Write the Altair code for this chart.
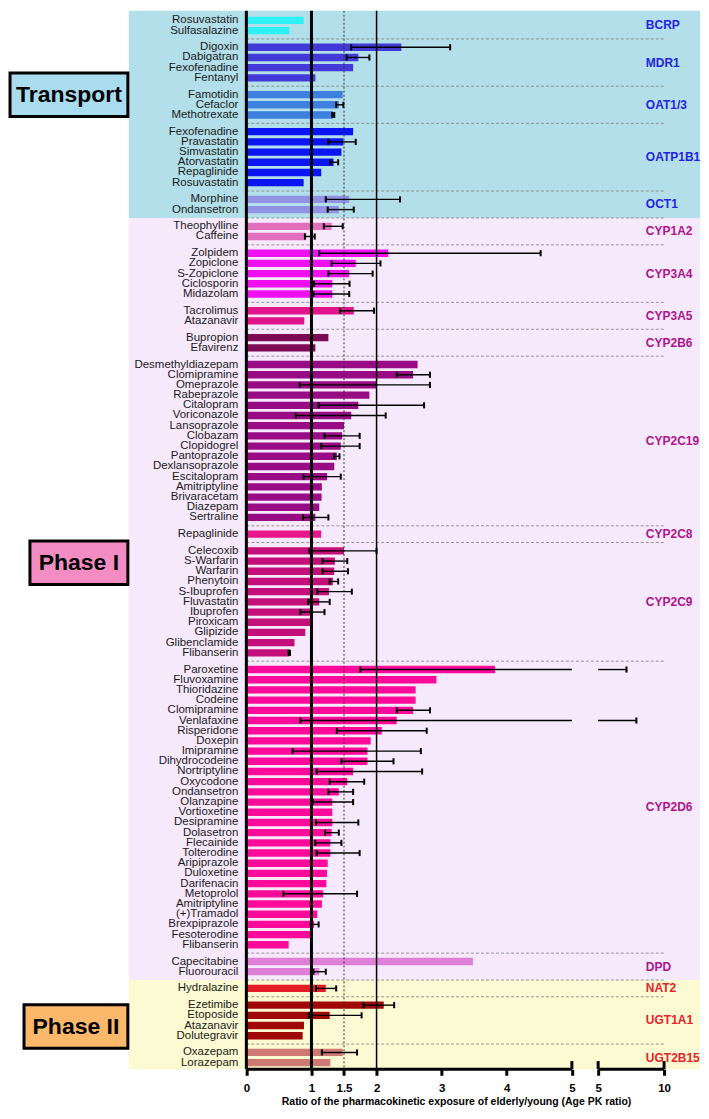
import altair as alt
import pandas as pd
import numpy as np

# ------------------------------------------------------------------ data
groups = ["BCRP", "MDR1", "OAT1/3", "OATP1B1", "OCT1",
          "CYP1A2", "CYP3A4", "CYP3A5", "CYP2B6", "CYP2C19", "CYP2C8", "CYP2C9", "CYP2D6", "DPD",
          "NAT2", "UGT1A1", "UGT2B15"]
group_sizes = [2, 4, 3, 6, 2, 2, 5, 2, 2, 16, 1, 11, 28, 2, 1, 4, 2]
group_phase = ["Transport"] * 5 + ["Phase I"] * 9 + ["Phase II"] * 3
group_colors = ["#2ff0f5", "#4338d8", "#3d80e0", "#0b14f2", "#9292e4",
                "#e26fbe", "#f00ff0", "#e2148c", "#7c0a55", "#990a85", "#e8158d", "#c40f7a",
                "#ff0a9a", "#df80d8", "#e41e24", "#a00808", "#cc7a72"]

phases = ["Transport", "Phase I", "Phase II"]
phase_bg = ["#b2dfe9", "#f7e9fc", "#fcfad2"]
phase_box = ["#a9dcee", "#f48cc4", "#fbb86b"]
phase_text = ["#2424e0", "#b0148c", "#e8232a"]

drugs = [
    "Rosuvastatin", "Sulfasalazine",
    "Digoxin", "Dabigatran", "Fexofenadine", "Fentanyl",
    "Famotidin", "Cefaclor", "Methotrexate",
    "Fexofenadine", "Pravastatin", "Simvastatin", "Atorvastatin", "Repaglinide", "Rosuvastatin",
    "Morphine", "Ondansetron",
    "Theophylline", "Caffeine",
    "Zolpidem", "Zopiclone", "S-Zopiclone", "Ciclosporin", "Midazolam",
    "Tacrolimus", "Atazanavir",
    "Bupropion", "Efavirenz",
    "Desmethyldiazepam", "Clomipramine", "Omeprazole", "Rabeprazole", "Citalopram", "Voriconazole",
    "Lansoprazole", "Clobazam", "Clopidogrel", "Pantoprazole", "Dexlansoprazole", "Escitalopram",
    "Amitriptyline", "Brivaracetam", "Diazepam", "Sertraline",
    "Repaglinide",
    "Celecoxib", "S-Warfarin", "Warfarin", "Phenytoin", "S-Ibuprofen", "Fluvastatin", "Ibuprofen",
    "Piroxicam", "Glipizide", "Glibenclamide", "Flibanserin",
    "Paroxetine", "Fluvoxamine", "Thioridazine", "Codeine", "Clomipramine", "Venlafaxine",
    "Risperidone", "Doxepin", "Imipramine", "Dihydrocodeine", "Nortriptyline", "Oxycodone",
    "Ondansetron", "Olanzapine", "Vortioxetine", "Desipramine", "Dolasetron", "Flecainide",
    "Tolterodine", "Aripiprazole", "Duloxetine", "Darifenacin", "Metoprolol", "Amitriptyline",
    "(+)Tramadol", "Brexpiprazole", "Fesoterodine", "Flibanserin",
    "Capecitabine", "Fluorouracil",
    "Hydralazine",
    "Ezetimibe", "Etoposide", "Atazanavir", "Dolutegravir",
    "Oxazepam", "Lorazepam",
]
ratio = [
    0.88, 0.66,
    2.38, 1.72, 1.64, 1.06,
    1.48, 1.42, 1.33,
    1.64, 1.49, 1.46, 1.34, 1.15, 0.88,
    1.58, 1.42,
    1.31, 0.92,
    2.18, 1.68, 1.58, 1.32, 1.32,
    1.65, 0.89,
    1.26, 1.06,
    2.63, 2.56, 2.00, 1.89, 1.72, 1.61, 1.50, 1.47, 1.45, 1.39, 1.35, 1.24, 1.16, 1.155, 1.12, 1.06,
    1.15,
    1.50, 1.36, 1.35, 1.33, 1.27, 1.12, 0.99, 0.99, 0.905, 0.74, 0.66,
    3.82, 2.92, 2.60, 2.60, 2.56, 2.31, 2.08, 1.91, 1.86, 1.86, 1.64, 1.55, 1.42, 1.32, 1.32,
    1.32, 1.31, 1.29, 1.29, 1.25, 1.24, 1.23, 1.18, 1.16, 1.09, 1.04, 1.00, 0.65,
    3.48, 1.12,
    1.22,
    2.11, 1.28, 0.885, 0.865,
    1.48, 1.29,
]
N = None
err_lo = [
    N, N,
    1.61, 1.54, N, N,
    N, 1.38, 1.32,
    N, 1.26, N, 1.29, N, N,
    1.22, 1.25,
    1.19, 0.90,
    1.12, 1.31, 1.26, 1.04, 1.03,
    1.44, N,
    N, N,
    N, 2.31, 0.82, N, 1.11, 0.76, N, 1.20, 1.15, 1.35, N, 0.88, N, N, N, 0.87,
    N,
    0.97, 1.17, 1.17, 1.28, 1.09, 0.95, 0.83, N, N, N, 0.65,
    1.75, N, N, N, 2.31, 0.83, 1.39, N, 0.71, 1.46, 1.08, 1.28, 1.26, 1.02, N,
    1.07, 1.21, 1.06, 1.08, N, N, N, 0.57, N, N, 0.99, N, N,
    N, 1.03,
    1.07,
    1.80, 0.96, N, N,
    1.16, N,
]
err_hi = [
    N, N,
    3.13, 1.89, N, N,
    N, 1.49, 1.35,
    N, 1.68, N, 1.41, N, N,
    2.36, 1.65,
    1.48, 1.05,
    4.52, 2.06, 1.94, 1.585, 1.58,
    1.96, N,
    N, N,
    N, 2.82, 2.82, N, 2.73, 2.14, N, 1.74, 1.74, 1.43, N, 1.45, N, N, N, 1.26,
    N,
    2.00, 1.55, 1.56, 1.41, 1.62, 1.28, 1.20, N, N, N, 0.67,
    7.15, N, N, N, 2.82, 7.90, 2.77, N, 2.68, 2.26, 2.70, 1.81, 1.64, 1.64, N,
    1.72, 1.42, 1.46, 1.74, N, N, N, 1.70, N, N, 1.11, N, N,
    N, 1.22,
    1.38,
    2.27, 1.77, N, N,
    1.70, N,
]
tick_values = [0, 1, 1.5, 2, 3, 4, 5, 10]
x_title = "Ratio of the pharmacokinetic exposure of elderly/young (Age PK ratio)"

# ------------------------------------------------------------------ layout
W, H = 693, 1060
GAP = 0.64                 # extra space between transporter/enzyme groups (rows)
HALF = (1 + GAP) / 2
BAR = 0.36
XL, X5B, XR = -3.661, 5.0001, 12.727     # broken axis: 0-5 | 5-10
X_BG = -1.805                             # left edge of the coloured panels
BOX_R = -1.82
box_left = [-3.63, -3.324, -3.415]
box_center = [7.29, 53.2, 98.7]
BOX_HALF = 2.13
GROUP_LABEL_X = 8.62
FONT = "Liberation Sans"

drug_group = sum(([g] * n for g, n in zip(groups, group_sizes)), [])
gidx = sum(([k] * n for k, n in enumerate(group_sizes)), [])
df = pd.DataFrame({"drug": drugs, "group": drug_group, "g": gidx,
                   "ratio": ratio, "lo": err_lo, "hi": err_hi})
df["pos"] = np.arange(len(df)) + GAP * df["g"]
df["y0"] = df["pos"] - BAR
df["y1"] = df["pos"] + BAR
df["zero"] = 0.0
df["color"] = df["group"].map(dict(zip(groups, group_colors)))
df["key"] = np.arange(len(df))

Y0 = df["pos"].min() - 0.94
Y1 = df["pos"].max() + 0.65

xs = alt.Scale(domain=[XL, 5, X5B, XR], range=[0, 564.7, 591.0, W], nice=False, zero=False)
ys = alt.Scale(domain=[Y0, Y1], reverse=True, nice=False, zero=False)
xaxis = alt.Axis(values=tick_values[:7] + [X5B, 10],
                 labelExpr="format(datum.value, '.1~f')", domain=False, grid=False,
                 tickColor="black", tickWidth=3, tickSize=6, labelFont=FONT,
                 labelFontSize=11.5, labelFontWeight="bold", labelColor="black",
                 labelPadding=7, labelOverlap=False, labelFlush=False,
                 title=x_title, titleFont=FONT, titleFontSize=10.5, titleFontWeight="bold",
                 titleColor="black", titleX=448.7, titleAlign="center", titlePadding=3)


def X(f):
    return alt.X(f, type="quantitative", scale=xs, axis=xaxis)


def Y(f):
    return alt.Y(f, type="quantitative", scale=ys, axis=None)


# phase backgrounds
prow = []
for k, p in enumerate(phases):
    sub = df[df["group"].map(dict(zip(groups, group_phase))) == p]
    top = Y0 if k == 0 else sub["pos"].min() - HALF
    bot = Y1 if k == len(phases) - 1 else sub["pos"].max() + HALF
    prow.append({"phase": p, "x0": X_BG, "x1": XR, "y0": top, "y1": bot, "bg": phase_bg[k],
                 "bx0": box_left[k], "bx1": BOX_R, "bxc": (box_left[k] + BOX_R) / 2,
                 "by0": box_center[k] - BOX_HALF, "by1": box_center[k] + BOX_HALF,
                 "byc": box_center[k], "box": phase_box[k]})
pdf = pd.DataFrame(prow)

bg = alt.Chart(pdf).mark_rect().encode(
    x=X("x0"), x2="x1", y=Y("y0"), y2="y1", fill=alt.Fill("bg:N", scale=None))
boxes = alt.Chart(pdf).mark_rect(stroke="black", strokeWidth=3).encode(
    x=X("bx0"), x2="bx1", y=Y("by0"), y2="by1", fill=alt.Fill("box:N", scale=None))
box_txt = alt.Chart(pdf).mark_text(font=FONT, fontSize=23, fontWeight="bold", color="black",
                                   align="center", baseline="middle").encode(
    x=X("bxc"), y=Y("byc"), text="phase:N")

# group separators and labels
grows = []
for k, g in enumerate(groups):
    sub = df[df["g"] == k]
    ph = phases.index(group_phase[k])
    grows.append({"group": g, "yc": sub["pos"].mean(), "ysep": sub["pos"].max() + HALF,
                  "last": k == len(groups) - 1, "tc": phase_text[ph],
                  "lx": GROUP_LABEL_X, "sx0": 0.0, "sx1": 10.0})
gdf = pd.DataFrame(grows)
seps = alt.Chart(gdf[~gdf["last"]]).mark_rule(color="#8a8a8a", strokeWidth=0.9,
                                               strokeDash=[3, 2]).encode(
    x=X("sx0"), x2="sx1", y=Y("ysep"))
glabels = alt.Chart(gdf).mark_text(font=FONT, fontSize=12, fontWeight="bold", align="left",
                                   baseline="middle").encode(
    x=X("lx"), y=Y("yc"), text="group:N", color=alt.Color("tc:N", scale=None))

# bars
bars = alt.Chart(df[["zero", "ratio", "y0", "y1", "color"]]).mark_rect().encode(
    x=X("zero"), x2="ratio", y=Y("y0"), y2="y1", fill=alt.Fill("color:N", scale=None))

# error bars (split at axis break)
e = df.dropna(subset=["lo", "hi"]).copy()
segs = [{"a": r.lo, "b": min(r.hi, 5.0), "pos": r.pos} for r in e.itertuples()]
segs += [{"a": X5B, "b": r.hi, "pos": r.pos} for r in e.itertuples() if r.hi > 5]
sdf = pd.DataFrame(segs)
err_lines = alt.Chart(sdf).mark_rule(color="black", strokeWidth=1.4).encode(
    x=X("a"), x2="b", y=Y("pos"))
caps = [{"x": v, "c0": r.pos - 0.3, "c1": r.pos + 0.3} for r in e.itertuples() for v in (r.lo, r.hi)]
cdf = pd.DataFrame(caps)
err_caps = alt.Chart(cdf).mark_rule(color="black", strokeWidth=2).encode(
    x=X("x"), y=Y("c0"), y2="c1")

# reference lines
ref = pd.DataFrame({"x": [0.0, 1.0, 1.5, 2.0], "y0": Y0, "y1": Y1})
vline_thick = alt.Chart(ref[ref["x"].isin([0.0, 1.0])]).mark_rule(color="black", strokeWidth=3).encode(
    x=X("x"), y=Y("y0"), y2="y1")
vline_dot = alt.Chart(ref[ref["x"] == 1.5]).mark_rule(color="#333333", strokeWidth=1,
                                                     strokeDash=[2, 2]).encode(
    x=X("x"), y=Y("y0"), y2="y1")
vline_two = alt.Chart(ref[ref["x"] == 2.0]).mark_rule(color="black", strokeWidth=1.5).encode(
    x=X("x"), y=Y("y0"), y2="y1")

# drug labels
labels = alt.Chart(df[["zero", "pos", "drug", "key"]]).mark_text(
    font=FONT, fontSize=11.5, align="right", baseline="middle", dx=-8, color="#1a1a1a").encode(
    x=X("zero"), y=Y("pos"), text="drug:N", detail="key:N")

# broken x axis line
axl = pd.DataFrame({"a": [0.0, X5B], "b": [5.0, 10.0], "y": Y1})
axis_line = alt.Chart(axl).mark_rule(color="black", strokeWidth=3).encode(
    x=X("a"), x2="b", y=Y("y"))
axc = pd.DataFrame({"x": [5.0, X5B, 10.0], "y0": Y1 - 0.8, "y1": Y1})
axis_caps = alt.Chart(axc).mark_rule(color="black", strokeWidth=3).encode(
    x=X("x"), y=Y("y0"), y2="y1")

chart = alt.layer(
    bg, boxes, box_txt, seps, bars, vline_dot, vline_two, vline_thick,
    err_lines, err_caps, labels, glabels, axis_line, axis_caps
).properties(width=W, height=H, padding=0).configure_view(stroke=None)

chart.save("out.html", embed_options={"renderer": "svg", "actions": False})
